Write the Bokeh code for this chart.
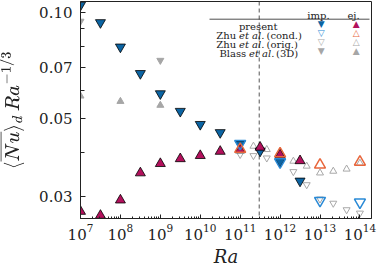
import math
from bokeh.plotting import figure
from bokeh.models import Range1d, FixedTicker, LogTickFormatter, PrintfTickFormatter, Span, Label
from bokeh.embed import file_html
from bokeh.resources import INLINE

# ---------------- data ----------------
ra_present = [1e7, 3.16e7, 1e8, 3.16e8, 1e9, 3.16e9, 1e10, 3.16e10, 1e11, 3.16e11, 1e12, 3.16e12]
nu_present_imp = [0.105, 0.0937, 0.0799, 0.0672, 0.0589, 0.0525, 0.0482, 0.0457, 0.0424, 0.0405, 0.0378, 0.0333]
nu_present_ej = [0.0273, 0.0266, 0.0294, 0.0351, 0.0373, 0.0385, 0.0393, 0.0404, 0.0408, 0.0415, 0.0395, 0.0380]

ra_zhu_cond = [1e11, 1e12, 1e13, 1e14]
nu_zhu_cond_imp = [0.0425, 0.0377, 0.0293, 0.0290]
nu_zhu_cond_ej = [0.0410, 0.0398, 0.0370, 0.0377]

ra_zhu_orig = [1e11, 2.15e11, 4.64e11, 1e12, 2.15e12, 4.64e12, 1e13, 2.15e13, 4.64e13, 1e14]
nu_zhu_orig_imp = [0.0396, 0.0393, 0.0387, 0.0373, 0.0354, 0.0325, 0.0296, 0.0288, 0.0276, 0.0270]
nu_zhu_orig_ej = [0.0405, 0.0418, 0.0409, 0.0400, 0.0379, 0.0367, 0.0351, 0.0355, 0.0360, 0.0374]

ra_blass_imp = [1e7, 1e9]
nu_blass_imp = [0.0945, 0.0732]
ra_blass_ej = [1e7, 1e8, 1e9]
nu_blass_ej = [0.0580, 0.0560, 0.0546]

ra_transition = 3e11

x_major = [1e7, 1e8, 1e9, 1e10, 1e11, 1e12, 1e13, 1e14]
y_major = [0.03, 0.05, 0.07, 0.10]
y_minor = [0.04, 0.06, 0.08, 0.09]

# ---------------- styles ----------------
C_PRES_IMP = "#0b64a3"
C_PRES_EJ = "#b3105c"
C_ZHU_IMP = "#2a8ad6"
C_ZHU_EJ = "#e8663c"
C_GREY_OPEN = "#a8a8a8"
C_GREY_FILL = "#a6a6a6"
SERIF = "DejaVu Serif"

X0, X1 = 1e7, 10 ** 14.29
Y0, Y1 = 0.02607, 0.1075
FL, FT, FW, FH = 81, 3, 291, 217  # frame position on the page (px)


def sx(px):
    lx0, lx1 = math.log10(X0), math.log10(X1)
    return 10 ** (lx0 + (px - FL) / FW * (lx1 - lx0))


def sy(py):
    ly0, ly1 = math.log10(Y0), math.log10(Y1)
    return 10 ** (ly1 - (py - FT) / FH * (ly1 - ly0))


p = figure(x_axis_type="log", y_axis_type="log",
           x_range=Range1d(X0, X1), y_range=Range1d(Y0, Y1),
           frame_width=FW, frame_height=FH,
           output_backend="svg", toolbar_location=None)
p.min_border = 0
p.min_border_left = 78
p.min_border_top = 1
p.min_border_right = 8
p.min_border_bottom = 40
p.styles = {"margin-top": "0px", "margin-left": "-5px"}

p.grid.visible = False
p.outline_line_color = "#222222"
p.outline_line_width = 1
p.background_fill_color = "white"
p.border_fill_color = "white"

minor_x = [m * 10 ** e for e in range(7, 15) for m in range(2, 10)]
p.xaxis.ticker = FixedTicker(ticks=x_major, minor_ticks=minor_x)
p.xaxis.formatter = LogTickFormatter()
p.yaxis.ticker = FixedTicker(ticks=y_major, minor_ticks=y_minor)
p.yaxis.formatter = PrintfTickFormatter(format="%.2f")

for ax in (p.xaxis[0], p.yaxis[0]):
    ax.axis_line_color = "#222222"
    ax.major_tick_line_color = "#222222"
    ax.minor_tick_line_color = "#222222"
    ax.major_tick_out = 0
    ax.minor_tick_out = 0
    ax.major_label_text_font = SERIF
    ax.major_label_text_font_size = "15px"
    ax.major_label_text_color = "#222222"
    ax.axis_label_text_font = SERIF
    ax.axis_label_text_font_style = "normal"
    ax.axis_label_text_color = "#222222"

p.xaxis.major_tick_in = 4
p.xaxis.minor_tick_in = 2
p.yaxis.major_tick_in = 5
p.yaxis.minor_tick_in = 4
p.xaxis.major_label_standoff = 5
p.yaxis.major_label_standoff = 8

p.xaxis.axis_label = "Ra"
p.xaxis.axis_label_text_font_style = "italic"
p.xaxis.axis_label_text_font_size = "18px"
p.xaxis.axis_label_standoff = 3
p.yaxis.axis_label = r"$$\langle \overline{Nu} \rangle_d \, Ra^{-1/3}$$"
p.yaxis.axis_label_text_font_size = "17px"
p.yaxis.axis_label_standoff = 12

# transition line
p.add_layout(Span(location=ra_transition, dimension="height", line_color="#555555",
                  line_dash="4 3", line_width=1, level="underlay"))

# ---------------- markers ----------------
p.scatter(ra_blass_imp, nu_blass_imp, marker="inverted_triangle", size=7,
          fill_color=C_GREY_FILL, line_color=C_GREY_FILL)
p.scatter(ra_blass_ej, nu_blass_ej, marker="triangle", size=7,
          fill_color=C_GREY_FILL, line_color=C_GREY_FILL)
p.scatter(ra_zhu_orig, nu_zhu_orig_imp, marker="inverted_triangle", size=7,
          fill_color=None, line_color=C_GREY_OPEN, line_width=1)
p.scatter(ra_zhu_orig, nu_zhu_orig_ej, marker="triangle", size=7,
          fill_color=None, line_color=C_GREY_OPEN, line_width=1)
p.scatter(ra_present, nu_present_imp, marker="inverted_triangle", size=10,
          fill_color=C_PRES_IMP, line_color="black", line_width=0.8)
p.scatter(ra_present, nu_present_ej, marker="triangle", size=10,
          fill_color=C_PRES_EJ, line_color="black", line_width=0.8)
p.scatter(ra_zhu_cond, nu_zhu_cond_imp, marker="inverted_triangle", size=11,
          fill_color=None, line_color=C_ZHU_IMP, line_width=1.5)
p.scatter(ra_zhu_cond, nu_zhu_cond_ej, marker="triangle", size=11,
          fill_color=None, line_color=C_ZHU_EJ, line_width=1.5)

# ---------------- legend table ----------------
LFS = "10px"


def lab(px, py, text, align="center", style="normal", color="#222222", font=SERIF, size=LFS,
        baseline="alphabetic"):
    p.add_layout(Label(x=sx(px), y=sy(py), text=text, text_align=align, text_baseline=baseline,
                       text_font=font, text_font_size=size, text_font_style=style,
                       text_color=color))


lab(319, 17, "imp.")
lab(354, 17, "ej.")
p.line([sx(210), sx(370)], [sy(20.7), sy(20.7)], line_color="#222222", line_width=0.8)

lab(258.7, 28, "present")
lab(236.7, 37.3, "Zhu", align="right")
lab(239.5, 37.3, "et al.", align="left", style="italic")
lab(267, 37.3, "(cond.)", align="left")
lab(236.7, 46, "Zhu", align="right")
lab(239.5, 46, "et al.", align="left", style="italic")
lab(267, 46, "(orig.)", align="left")
lab(246.7, 55, "Blass", align="right")
lab(249.5, 55, "et al.", align="left", style="italic")
lab(276.5, 55, "(3D)", align="left")

KF = "DejaVu Sans"
KS = "9px"
rows_y = [25.7, 34.5, 43.3, 52.2]
imp_keys = [("▼", C_PRES_IMP), ("▽", C_ZHU_IMP), ("▽", C_GREY_OPEN), ("▼", C_GREY_FILL)]
ej_keys = [("▲", C_PRES_EJ), ("△", C_ZHU_EJ), ("△", C_GREY_OPEN), ("▲", C_GREY_FILL)]
for ry, (t1, c1), (t2, c2) in zip(rows_y, imp_keys, ej_keys):
    lab(321.7, ry, t1, color=c1, font=KF, size=KS, baseline="middle")
    lab(356.7, ry, t2, color=c2, font=KF, size=KS, baseline="middle")

open("out.html", "w").write(file_html(p, INLINE))
